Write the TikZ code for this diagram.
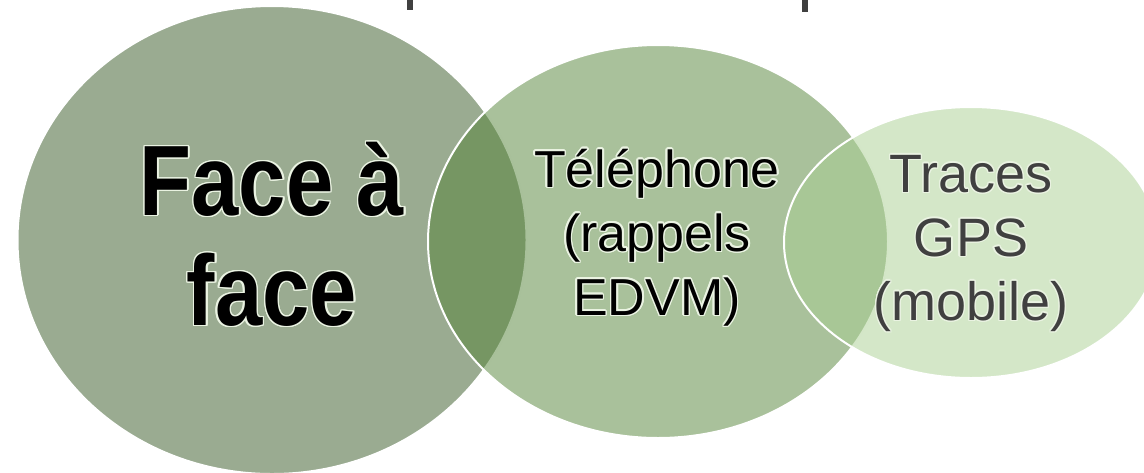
\documentclass[tikz,border=0pt]{standalone}
\usepackage{fontspec}
\setmainfont{Liberation Sans}
\newfontfamily\facefont[FakeStretch=0.85]{Liberation Sans}
\usepackage{contour}
\usetikzlibrary{shapes.geometric,positioning}
\definecolor{faceg}{RGB}{53,87,35}
\definecolor{phoneg}{RGB}{83,131,55}
\definecolor{gpsg}{RGB}{169,207,145}
\definecolor{glow}{RGB}{234,243,226}
\definecolor{gpstext}{RGB}{64,64,64}
\contourlength{0.7pt}

\begin{document}
\begin{tikzpicture}[
x=0.5pt,y=-0.5pt,
every node/.style={align=center},
set/.style={ellipse,draw=white,line width=1pt,fill opacity=0.5,inner sep=0pt,outer sep=0pt},
label/.style={text=black,font=\fontsize{26}{32}\selectfont},
cut/.style={draw=gpstext,line width=3.2pt}]

\useasboundingbox (0,0) rectangle (1144,472);

% the three sets, left to right
\node[set,fill=faceg,minimum width=254.5pt,minimum height=234pt] (face) at (272,240) {};
\node[set,fill=phoneg,minimum width=230pt,minimum height=196.5pt] (phone) at (658,241.5) {};
\node[set,fill=gpsg,minimum width=187pt,minimum height=135.5pt] (gps) at (971,242.5) {};

% texts
\node[text=black,font=\facefont\bfseries\fontsize{50}{55}\selectfont] (facetxt) at (272,235)
  {\contour{glow}{Face à}\\\contour{glow}{face}};
\node[label] (phonetxt) at (657,238)
  {\contour{glow}{Téléphone}\\\contour{glow}{(rappels}\\\contour{glow}{EDVM)}};
\node[label,text=gpstext,font=\fontsize{27}{32}\selectfont] (gpstxt) at (971,244)
  {\contour{glow}{Traces}\\\contour{glow}{GPS}\\\contour{glow}{(mobile)}};

% bits of the title above, cut by the frame
\draw[cut] (410,0) -- (410,10);
\draw[cut] (805,0) -- (805,12);
\end{tikzpicture}
\end{document}
